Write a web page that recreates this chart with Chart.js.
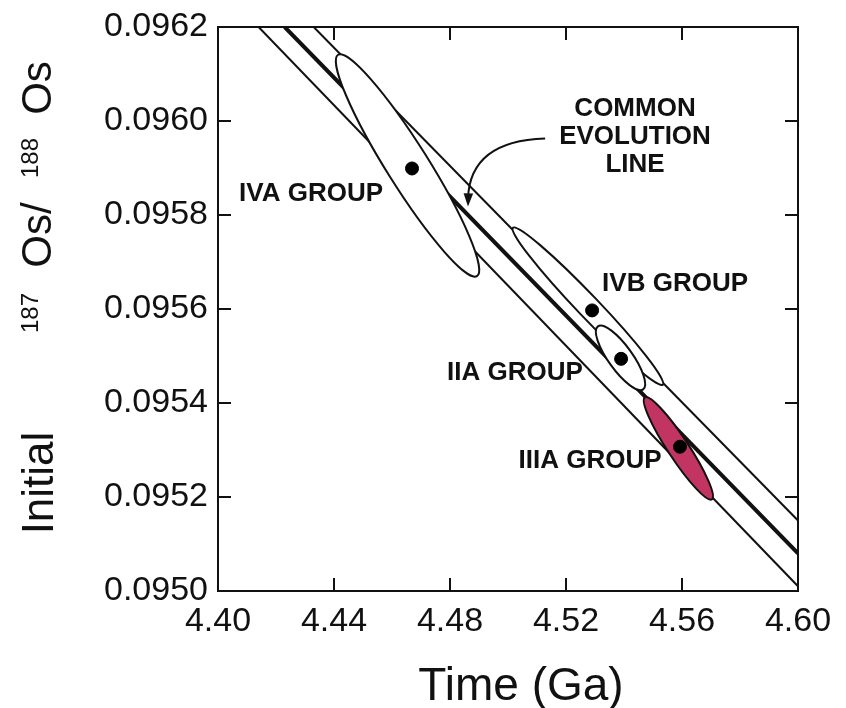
<!DOCTYPE html>
<html>
<head>
<meta charset="utf-8">
<script src="https://cdn.jsdelivr.net/npm/chart.js@4.4.0/dist/chart.umd.min.js"></script>
<style>
  html, body { margin: 0; padding: 0; background: #fff; }
</style>
</head>
<body>
<canvas id="osChart" width="846" height="708"></canvas>
<script>
const xTicks = [4.40, 4.44, 4.48, 4.52, 4.56, 4.60];
const yTicks = [0.0950, 0.0952, 0.0954, 0.0956, 0.0958, 0.0960, 0.0962];

// common evolution line and its two bounding lines, [time, ratio] end points
const evolutionLine = [[4.423, 0.0962], [4.600, 0.09508]];
const upperBound = [[4.433, 0.0962], [4.600, 0.09515]];
const lowerBound = [[4.414, 0.0962], [4.600, 0.09501]];

// iron meteorite groups
const groupNames = ['IVA GROUP', 'IVB GROUP', 'IIA GROUP', 'IIIA GROUP'];
const groupTime = [4.4669, 4.5290, 4.5390, 4.5593];
const groupOs = [0.095899, 0.095597, 0.095494, 0.095307];

// error ellipses: ends of the long axis and short/long ratio
const ellipseEndA = [[4.4414, 0.096141], [4.5017, 0.095773], [4.5310, 0.095563], [4.5472, 0.095412]];
const ellipseEndB = [[4.4893, 0.095670], [4.5534, 0.095439], [4.5466, 0.095429], [4.5703, 0.095195]];
const ellipseRatio = [0.16, 0.10, 0.31, 0.17];

// label anchors (data coords)
const labelTime = [4.4321, 4.5576, 4.5024, 4.5283];
const labelOs = [0.095845, 0.095654, 0.095464, 0.095277];
const noteLines = ['COMMON', 'EVOLUTION', 'LINE'];
const noteAt = [4.5438, 0.095967];
const arrowPath = [[4.5128, 0.095963], [4.4869, 0.095958], [4.4862, 0.095818]];

const toPts = arr => arr.map(p => ({ x: p[0], y: p[1] }));
const FONT = "'Liberation Sans', Arial, Helvetica, sans-serif";

const osDecor = {
  id: 'osDecor',
  beforeDatasetDraw(chart, args) {
    // ellipses sit above the lines, below the group dots
    if (args.index !== 0) return;
    const { ctx, scales: { x, y } } = chart;
    ctx.save();
    ellipseEndA.forEach((a, i) => {
      const ax = x.getPixelForValue(a[0]), ay = y.getPixelForValue(a[1]);
      const bx = x.getPixelForValue(ellipseEndB[i][0]), by = y.getPixelForValue(ellipseEndB[i][1]);
      const half = Math.hypot(bx - ax, by - ay) / 2;
      ctx.beginPath();
      ctx.ellipse((ax + bx) / 2, (ay + by) / 2, half, half * ellipseRatio[i],
        Math.atan2(by - ay, bx - ax), 0, Math.PI * 2);
      ctx.fillStyle = i === 3 ? '#c23562' : '#ffffff';
      ctx.fill();
      ctx.lineWidth = 2;
      ctx.strokeStyle = '#111';
      ctx.stroke();
    });
    ctx.restore();
  },
  afterDraw(chart) {
    const { ctx, chartArea: ca, scales: { x, y } } = chart;
    ctx.save();
    // frame with inward ticks on all sides
    ctx.strokeStyle = '#111';
    ctx.lineWidth = 2;
    ctx.strokeRect(ca.left, ca.top, ca.right - ca.left, ca.bottom - ca.top);
    ctx.beginPath();
    xTicks.forEach(v => {
      const px = x.getPixelForValue(v);
      ctx.moveTo(px, ca.bottom); ctx.lineTo(px, ca.bottom - 13);
      ctx.moveTo(px, ca.top); ctx.lineTo(px, ca.top + 13);
    });
    yTicks.forEach(v => {
      const py = y.getPixelForValue(v);
      ctx.moveTo(ca.left, py); ctx.lineTo(ca.left + 13, py);
      ctx.moveTo(ca.right, py); ctx.lineTo(ca.right - 13, py);
    });
    ctx.stroke();

    // group labels
    ctx.fillStyle = '#111';
    ctx.font = 'bold 26px ' + FONT;
    ctx.textAlign = 'center';
    ctx.textBaseline = 'middle';
    groupNames.forEach((g, i) => {
      ctx.fillText(g, x.getPixelForValue(labelTime[i]), y.getPixelForValue(labelOs[i]));
    });
    const nx = x.getPixelForValue(noteAt[0]), ny = y.getPixelForValue(noteAt[1]);
    noteLines.forEach((t, i) => ctx.fillText(t, nx, ny + (i - 1) * 28));

    // curved arrow to the evolution line
    const p = arrowPath.map(q => [x.getPixelForValue(q[0]), y.getPixelForValue(q[1])]);
    ctx.beginPath();
    ctx.moveTo(p[0][0], p[0][1]);
    ctx.quadraticCurveTo(p[1][0], p[1][1], p[2][0], p[2][1] - 8);
    ctx.lineWidth = 2;
    ctx.stroke();
    const ang = Math.atan2(p[2][1] - p[1][1], p[2][0] - p[1][0]);
    ctx.beginPath();
    ctx.moveTo(p[2][0], p[2][1]);
    ctx.lineTo(p[2][0] - 14 * Math.cos(ang - 0.35), p[2][1] - 14 * Math.sin(ang - 0.35));
    ctx.lineTo(p[2][0] - 14 * Math.cos(ang + 0.35), p[2][1] - 14 * Math.sin(ang + 0.35));
    ctx.closePath();
    ctx.fill();

    // x axis title, set a little right of centre as in the figure
    ctx.font = '46px ' + FONT;
    ctx.textBaseline = 'alphabetic';
    ctx.fillText('Time (Ga)', 521, 700);

    // y axis title with superscripts, reading upward
    const runs = [
      { t: 'Initial', size: 44, at: 483, base: 53 },
      { t: '187', size: 24, at: 313, base: 38 },
      { t: 'Os/', size: 42, at: 235, base: 51 },
      { t: '188', size: 24, at: 158, base: 38 },
      { t: 'Os', size: 42, at: 88, base: 51 }
    ];
    runs.forEach(r => {
      ctx.save();
      ctx.translate(r.base, r.at);
      ctx.rotate(-Math.PI / 2);
      ctx.font = r.size + 'px ' + FONT;
      ctx.fillText(r.t, 0, 0);
      ctx.restore();
    });
    ctx.restore();
  }
};

const ctx = document.getElementById('osChart').getContext('2d');
new Chart(ctx, {
  type: 'scatter',
  data: {
    datasets: [
      {
        label: 'Groups',
        data: groupTime.map((t, i) => ({ x: t, y: groupOs[i] })),
        backgroundColor: '#000',
        borderColor: '#000',
        pointRadius: 6.5
      },
      {
        label: 'Evolution line',
        data: toPts(evolutionLine),
        showLine: true,
        borderColor: '#111',
        borderWidth: 4,
        pointRadius: 0
      },
      {
        label: 'Upper',
        data: toPts(upperBound),
        showLine: true,
        borderColor: '#111',
        borderWidth: 2,
        pointRadius: 0
      },
      {
        label: 'Lower',
        data: toPts(lowerBound),
        showLine: true,
        borderColor: '#111',
        borderWidth: 2,
        pointRadius: 0
      }
    ]
  },
  options: {
    responsive: false,
    devicePixelRatio: 1,
    animation: false,
    layout: { padding: { top: 20, right: 48, left: 0, bottom: 0 } },
    scales: {
      x: {
        type: 'linear',
        min: 4.40,
        max: 4.60,
        afterBuildTicks: scale => { scale.ticks = xTicks.map(v => ({ value: v })); },
        afterFit: scale => { scale.height = 117; },
        grid: { display: false, drawTicks: false },
        border: { display: false },
        ticks: {
          color: '#111',
          padding: 14,
          maxRotation: 0,
          font: { family: FONT, size: 34, lineHeight: 1 },
          callback: v => v.toFixed(2)
        }
      },
      y: {
        type: 'linear',
        min: 0.0950,
        max: 0.0962,
        afterBuildTicks: scale => { scale.ticks = yTicks.map(v => ({ value: v })); },
        afterFit: scale => { scale.width = 218; },
        grid: { display: false, drawTicks: false },
        border: { display: false },
        ticks: {
          color: '#111',
          padding: 10,
          font: { family: FONT, size: 34, lineHeight: 1 },
          callback: v => v.toFixed(4)
        }
      }
    },
    plugins: {
      legend: { display: false },
      tooltip: { enabled: false }
    }
  },
  plugins: [osDecor]
});
</script>
</body>
</html>
